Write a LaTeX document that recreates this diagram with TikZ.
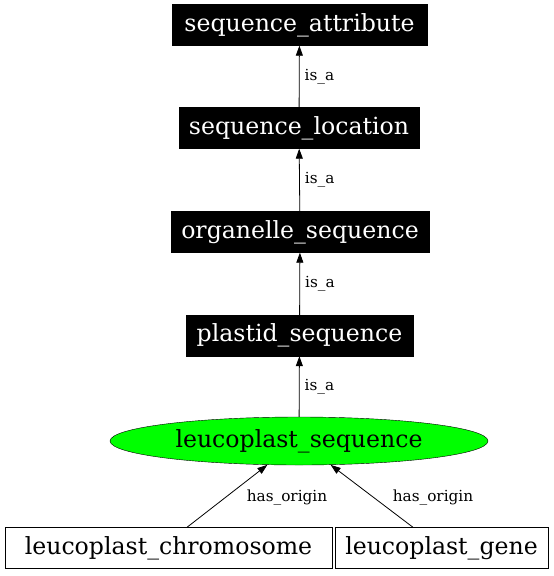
\documentclass[tikz,border=0pt]{standalone}
\usepackage{fontspec}
\setmainfont{DejaVu Serif}
\usetikzlibrary{arrows.meta,shapes.geometric}
\tikzset{
  blackbox/.style={draw=black, fill=black, text=white, rectangle, inner sep=0pt, minimum height=41pt, font=\fontsize{23.6}{26}\selectfont},
  whitebox/.style={draw=black, fill=white, rectangle, inner sep=0pt, minimum height=41pt, font=\fontsize{23.6}{26}\selectfont},
  greenell/.style={draw=black, fill=green, ellipse, inner sep=0pt, minimum width=378pt, minimum height=48pt, font=\fontsize{23.6}{26}\selectfont},
  edgelab/.style={font=\fontsize{15.3}{17}\selectfont, inner sep=0pt},
  rel/.style={-{Triangle[length=10pt,width=7pt]}, line width=0.8pt},
}
\begin{document}
\begin{tikzpicture}[x=1pt,y=-1pt]
\useasboundingbox (0,0) rectangle (554,576);
\node[blackbox, minimum width=255pt] (sa) at (299.5,25) {sequence\_attribute};
\node[blackbox, minimum width=240pt] (sl) at (299,128) {sequence\_location};
\node[blackbox, minimum width=258pt] (os) at (300,232) {organelle\_sequence};
\node[blackbox, minimum width=227pt] (ps) at (299.5,335.5) {plastid\_sequence};
\node[greenell] (ls) at (299,441) {leucoplast\_sequence};
\node[whitebox, minimum width=327pt] (lc) at (168.5,548) {leucoplast\_chromosome};
\node[whitebox, minimum width=213pt] (lg) at (441.5,548) {leucoplast\_gene};
\draw[rel] (sl) -- (sa) node[edgelab, midway, right=5pt] {is\_a};
\draw[rel] (os) -- (sl) node[edgelab, midway, right=5pt] {is\_a};
\draw[rel] (ps) -- (os) node[edgelab, midway, right=5pt] {is\_a};
\draw[rel] (ls) -- (ps) node[edgelab, midway, right=5pt] {is\_a};
\draw[rel] ([xshift=18.5pt]lc.north) -- (ls.217);
\draw[rel] ([xshift=-28.5pt]lg.north) -- (ls.323);
\node[edgelab] (l1) at (287,497) {has\_origin};
\node[edgelab] (l2) at (433,497) {has\_origin};
\end{tikzpicture}
\end{document}
